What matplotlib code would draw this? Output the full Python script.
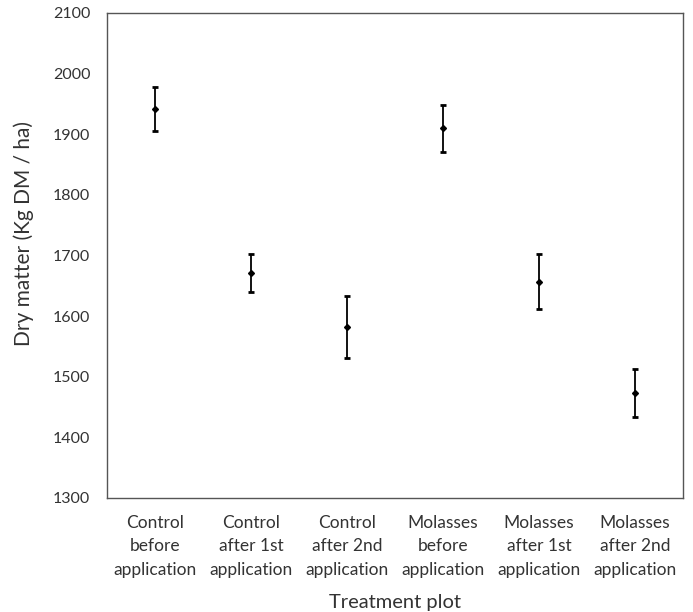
import matplotlib
matplotlib.use("Agg")
import matplotlib.pyplot as plt
import numpy as np

categories = ["Control\nbefore\napplication", "Control\nafter 1st\napplication",
              "Control\nafter 2nd\napplication", "Molasses\nbefore\napplication",
              "Molasses\nafter 1st\napplication", "Molasses\nafter 2nd\napplication"]
means = [1942, 1671, 1582, 1910, 1657, 1473]
errors = [36, 31, 51, 39, 45, 39]
yticks = [1300, 1400, 1500, 1600, 1700, 1800, 1900, 2000, 2100]

plt.rcParams['font.family'] = ['Lato', 'DejaVu Sans']

fig = plt.figure(figsize=(6.93, 6.12), dpi=100)
ax = fig.add_axes([0.1544, 0.1863, 0.8312, 0.7925])

x = np.arange(len(categories))
ax.errorbar(x, means, yerr=errors, fmt='D', color='black', ms=3, lw=1.3,
            capsize=2.5, capthick=2, elinewidth=1.3)

ax.set_xlim(-0.5, len(categories) - 0.5)
ax.set_ylim(1300, 2100)
ax.set_yticks(yticks)
ax.set_xticks(x)
ax.set_xticklabels(categories, linespacing=1.6)
ax.tick_params(axis='both', length=0, colors='#333333')
ax.tick_params(axis='y', labelsize=11.5, pad=12)
ax.tick_params(axis='x', labelsize=12.5, pad=12)
for s in ax.spines.values():
    s.set_color('#555555')
    s.set_linewidth(1)
ax.set_ylabel("Dry matter (Kg DM / ha)", fontsize=15, color='#333333')
ax.yaxis.set_label_coords(-0.127, 0.546)
ax.set_xlabel("Treatment plot", fontsize=14.5, color='#333333', labelpad=11)

fig.savefig("out.png", dpi=100)
